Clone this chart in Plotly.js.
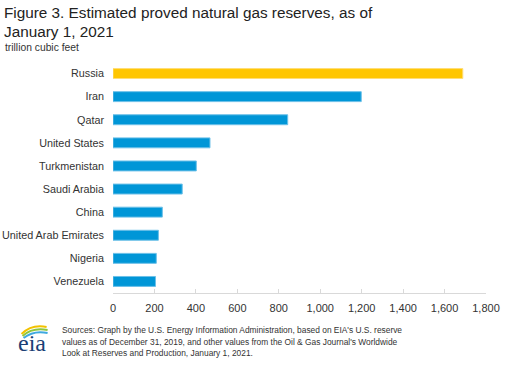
<!DOCTYPE html>
<html>
<head>
<meta charset="utf-8">
<script src="https://cdn.plot.ly/plotly-3.0.1.min.js"></script>
<style>html,body{margin:0;padding:0;background:#fff;}#chart{width:515px;height:368px;}</style>
</head>
<body>
<div id="chart"></div>
<script>
const countries = ["Russia","Iran","Qatar","United States","Turkmenistan","Saudi Arabia","China","United Arab Emirates","Nigeria","Venezuela"];
const reserves = [1688, 1198, 843, 468, 402, 334, 238, 219, 209, 205];
const highlight = "Russia";
const xTicks = [0,200,400,600,800,1000,1200,1400,1600,1800];
const xTickLabels = ["0","200","400","600","800","1,000","1,200","1,400","1,600","1,800"];
const titleLines = ["Figure 3. Estimated proved natural gas reserves, as of", "January 1, 2021"];
const unitLabel = "trillion cubic feet";
const sourceLines = [
  "Sources: Graph by the U.S. Energy Information Administration, based on EIA's U.S. reserve",
  "values as of December 31, 2019, and other values from the Oil &amp; Gas Journal's Worldwide",
  "Look at Reserves and Production, January 1, 2021."
];

const W = 515, H = 368;
const M = {l:113.3, r:29.3, t:62, b:75};
const pw = W - M.l - M.r, ph = H - M.t - M.b;
const px = x => (x - M.l) / pw;
const py = y => (H - M.b - y) / ph;

const fillColors = countries.map(c => c === highlight ? "#FFC600" : "#0096D7");
const lineColors = countries.map(c => c === highlight ? "#FFDD77" : "#6CC0E8");

const FONT = "Liberation Sans, Arial, sans-serif";

const trace = {
  type: "bar",
  orientation: "h",
  y: countries,
  x: reserves,
  marker: {color: fillColors, line: {color: lineColors, width: 1}},
  hoverinfo: "x+y"
};

function arc(x0,y0,cx,cy,x1,y1,color,w){
  return {type:"path", xref:"paper", yref:"paper",
    path:`M ${px(x0)},${py(y0)} Q ${px(cx)},${py(cy)} ${px(x1)},${py(y1)}`,
    line:{color:color,width:w}};
}
function txt(t, x, y, size, opts){
  return Object.assign({text: t, xref: "paper", yref: "paper", x: px(x), y: py(y),
    xanchor: "left", yanchor: "middle", showarrow: false, align: "left",
    font: {family: FONT, size: size, color: "#333"}}, opts || {});
}

const annotations = [
  txt(titleLines[0], 2, 13, 15.3, {font: {family: FONT, size: 15.3, color: "#222"}}),
  txt(titleLines[1], 2, 31.5, 15.3, {font: {family: FONT, size: 15.3, color: "#222"}}),
  txt(unitLabel, 3, 47.5, 10.3),
  txt(sourceLines[0], 60.5, 330, 8.4),
  txt(sourceLines[1], 60.5, 341.5, 8.4),
  txt(sourceLines[2], 60.5, 353, 8.4),
  {text: "eia", xref: "paper", yref: "paper", x: px(32), y: py(343), xanchor: "center", yanchor: "middle",
   showarrow: false, font: {family: "Liberation Serif, DejaVu Serif, serif", size: 24, color: "#1B3F75"}}
];

const layout = {
  width: W, height: H,
  margin: M,
  paper_bgcolor: "#fff", plot_bgcolor: "#fff",
  showlegend: false,
  bargap: 0.57,
  font: {family: FONT, color: "#333", size: 11},
  xaxis: {
    range: [0, 1800], tickvals: xTicks, ticktext: xTickLabels,
    showgrid: false, zeroline: false,
    showline: true, linecolor: "#d9d9d9", linewidth: 1,
    ticks: "inside", ticklen: 4, tickcolor: "#d9d9d9",
    ticklabelstandoff: 5,
    tickfont: {family: FONT, size: 11, color: "#333"},
    fixedrange: true
  },
  yaxis: {
    autorange: "reversed", showgrid: false, zeroline: false, showline: false,
    ticks: "", ticklabelstandoff: 8,
    tickfont: {family: FONT, size: 10.8, color: "#333"},
    fixedrange: true
  },
  annotations: annotations,
  shapes: [
    arc(22,334,32,324,47,327,"#F2C200",2),
    arc(23,336,33,327,48,330,"#8DC63F",2),
    arc(24,338,34,330,48,333,"#3FA9E0",2)
  ]
};

Plotly.newPlot("chart", [trace], layout, {displayModeBar: false, staticPlot: true});
</script>
</body>
</html>
